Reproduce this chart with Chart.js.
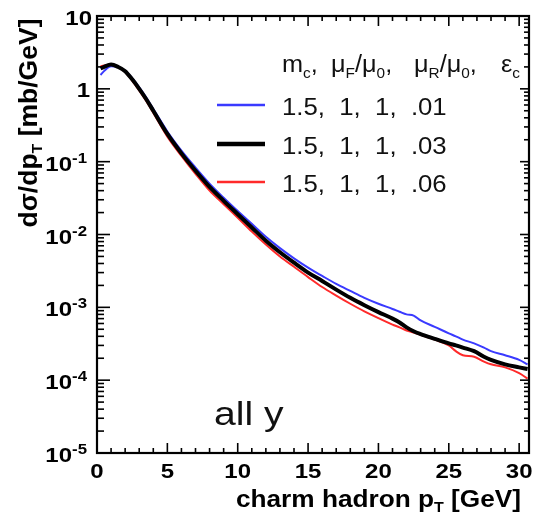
<!DOCTYPE html>
<html lang="en">
<head>
<meta charset="UTF-8">
<title>Charm hadron pT</title>
<script src="https://cdn.jsdelivr.net/npm/chart.js"></script>
<style>
  body { margin: 0; background: #fff; }
  #wrap { width: 537px; height: 518px; position: relative; }
</style>
</head>
<body>
<div id="wrap"><canvas id="graphique"></canvas></div>
<script>
// pT grid [GeV] and dsigma/dpT [mb/GeV]
const pt = [0.25, 0.5, 1, 1.5, 2, 2.5, 3, 3.5, 4, 5, 6, 7, 8, 9, 10, 11, 12, 13, 14, 15,
            16, 17, 18, 19, 20, 21, 21.5, 22, 22.5, 23, 24, 25, 25.5, 26, 26.8, 27.5, 28, 29, 30, 30.6];
const eps01 = [1.55, 1.75, 2.05, 2.0, 1.78, 1.4, 1.05, 0.76, 0.53, 0.26, 0.142, 0.083, 0.050, 0.032, 0.021, 0.014, 0.0093, 0.0065, 0.0047, 0.0035,
               0.0027, 0.0021, 0.00168, 0.00135, 0.00112, 0.00095, 0.00087, 0.00080, 0.00077, 0.00066, 0.00054, 0.00044, 0.00040, 0.00036, 0.00032, 0.00028, 0.00025, 0.00022, 0.00019, 0.000165];
const eps03 = [1.9, 2.0, 2.15, 2.0, 1.75, 1.35, 1.0, 0.72, 0.5, 0.24, 0.13, 0.075, 0.045, 0.029, 0.019, 0.0125, 0.0082, 0.0057, 0.0041, 0.0030,
               0.0023, 0.00175, 0.00135, 0.00107, 0.00086, 0.00070, 0.00062, 0.00053, 0.00047, 0.00043, 0.00037, 0.00032, 0.00030, 0.00028, 0.00025, 0.00021, 0.00019, 0.000165, 0.00015, 0.000142];
const eps06 = [2.05, 2.1, 2.15, 1.98, 1.7, 1.3, 0.95, 0.68, 0.47, 0.22, 0.12, 0.068, 0.040, 0.026, 0.017, 0.011, 0.0073, 0.0050, 0.0036, 0.0026,
               0.0019, 0.00145, 0.00112, 0.00088, 0.00071, 0.00058, 0.00053, 0.00048, 0.00045, 0.00042, 0.00036, 0.00030, 0.00025, 0.00022, 0.00021, 0.00018, 0.000165, 0.00015, 0.000125, 0.000105];

const legendLabels = ['1.5,  1,  1,  .01', '1.5,  1,  1,  .03', '1.5,  1,  1,  .06'];
const xTicks = [0, 5, 10, 15, 20, 25, 30];
const yExponents = [1, 0, -1, -2, -3, -4, -5];

const FONT = '"Liberation Sans", Arial, sans-serif';

// draws pieces of text [str, size, weight, dy] one after the other
function texte(ctx, parts, x, y, align, sx, angle) {
  let w = 0;
  parts.forEach(p => { ctx.font = `${p[2]} ${p[1]}px ${FONT}`; w += ctx.measureText(p[0]).width; });
  ctx.save();
  ctx.translate(x, y);
  if (angle) ctx.rotate(angle);
  ctx.scale(sx, 1);
  let cx = align === 'right' ? -w : align === 'center' ? -w / 2 : 0;
  ctx.textAlign = 'left';
  ctx.textBaseline = 'alphabetic';
  parts.forEach(p => {
    ctx.font = `${p[2]} ${p[1]}px ${FONT}`;
    ctx.fillText(p[0], cx, p[3]);
    cx += ctx.measureText(p[0]).width;
  });
  ctx.restore();
}

const cadre = {
  id: 'cadre',
  afterDraw(chart) {
    const { ctx, chartArea: a, scales: { x, y } } = chart;
    ctx.save();
    ctx.strokeStyle = '#000';
    ctx.fillStyle = '#000';

    const seg = (x1, y1, x2, y2) => { ctx.beginPath(); ctx.moveTo(x1, y1); ctx.lineTo(x2, y2); ctx.stroke(); };

    // ticks pointing inward
    ctx.lineWidth = 1.6;
    for (let v = 0; v <= 30; v++) {
      const px = x.getPixelForValue(v);
      const big = v % 5 === 0;
      seg(px, a.bottom, px, a.bottom - (big ? 10 : 5));
      seg(px, a.top, px, a.top + (big ? 10 : 5));
    }
    yExponents.forEach(e => {
      for (let m = 1; m <= 9; m++) {
        const v = m * Math.pow(10, e);
        if (v > 10) break;
        const py = y.getPixelForValue(v);
        seg(a.left, py, a.left + (m === 1 ? 13 : 7), py);
        seg(a.right, py, a.right - (m === 1 ? 9 : 5), py);
      }
    });

    // frame
    ctx.lineWidth = 2.2;
    ctx.strokeRect(a.left, a.top, a.right - a.left, a.bottom - a.top);

    // tick labels
    xTicks.forEach(v => {
      texte(ctx, [[String(v), 20, 'bold', 0]], x.getPixelForValue(v), 478, 'center', 1.2);
    });
    yExponents.forEach(e => {
      const py = y.getPixelForValue(Math.pow(10, e));
      if (e === 1) texte(ctx, [['10', 20, 'bold', 0]], 92, py + 9, 'right', 1.2);
      else if (e === 0) texte(ctx, [['1', 20, 'bold', 0]], 90, py + 8, 'right', 1.2);
      else texte(ctx, [['10', 20, 'bold', 0], [String(e), 14, 'bold', -8]], 87, py + 9, 'right', 1.2);
    });

    // axis titles
    texte(ctx, [['charm hadron p', 23, 'bold', 0], ['T', 14, 'bold', 5], [' [GeV]', 23, 'bold', 0]], 521, 507, 'right', 1.14);
    texte(ctx, [['d\u03c3/dp', 25, 'bold', 0], ['T', 15, 'bold', 5], [' [mb/GeV]', 25, 'bold', 0]], 37, 123, 'center', 1.06, -Math.PI / 2);

    // legend header, one block per parameter
    ctx.fillStyle = '#111';
    const sub = 14, dd = 6;
    texte(ctx, [['m', 23, 'normal', 0], ['c', sub, 'normal', dd], [',', 23, 'normal', 0]], 282, 72, 'left', 1.1);
    texte(ctx, [['\u03bc', 23, 'normal', 0], ['F', sub, 'normal', dd], ['/\u03bc', 23, 'normal', 0], ['0', sub, 'normal', dd], [',', 23, 'normal', 0]], 331, 72, 'left', 1.1);
    texte(ctx, [['\u03bc', 23, 'normal', 0], ['R', sub, 'normal', dd], ['/\u03bc', 23, 'normal', 0], ['0', sub, 'normal', dd], [',', 23, 'normal', 0]], 414, 72, 'left', 1.1);
    texte(ctx, [['\u03b5', 23, 'normal', 0], ['c', sub, 'normal', dd]], 501, 72, 'left', 1.1);

    const rows = [105, 144, 182];
    chart.data.datasets.forEach((ds, k) => {
      ctx.strokeStyle = ds.borderColor;
      ctx.lineWidth = ds.borderWidth + 0.5;
      seg(217, rows[k], 265, rows[k]);
      ctx.fillStyle = '#111';
      texte(ctx, [[ds.label, 23, 'normal', 0]], 282, rows[k] + 10, 'left', 1.12);
    });

    texte(ctx, [['all y', 34, 'normal', 0]], 214, 425, 'left', 1.15);
    ctx.restore();
  }
};

const serie = vals => pt.map((p, i) => ({ x: p, y: vals[i] }));

new Chart(document.getElementById('graphique'), {
  type: 'line',
  data: {
    datasets: [
      { label: legendLabels[0], data: serie(eps01), borderColor: '#3a3aff', borderWidth: 2, order: 1 },
      { label: legendLabels[1], data: serie(eps03), borderColor: '#000000', borderWidth: 4, order: 0 },
      { label: legendLabels[2], data: serie(eps06), borderColor: '#ff2a2a', borderWidth: 2, order: 2 }
    ]
  },
  options: {
    responsive: true,
    maintainAspectRatio: false,
    animation: false,
    layout: { padding: { left: 97, top: 16, right: 8, bottom: 65 } },
    elements: { point: { radius: 0 }, line: { cubicInterpolationMode: 'monotone', fill: false } },
    plugins: { legend: { display: false }, tooltip: { enabled: false } },
    scales: {
      x: { type: 'linear', min: 0, max: 30.7, display: false },
      y: { type: 'logarithmic', min: 1e-5, max: 10, display: false }
    }
  },
  plugins: [cadre]
});
</script>
</body>
</html>
